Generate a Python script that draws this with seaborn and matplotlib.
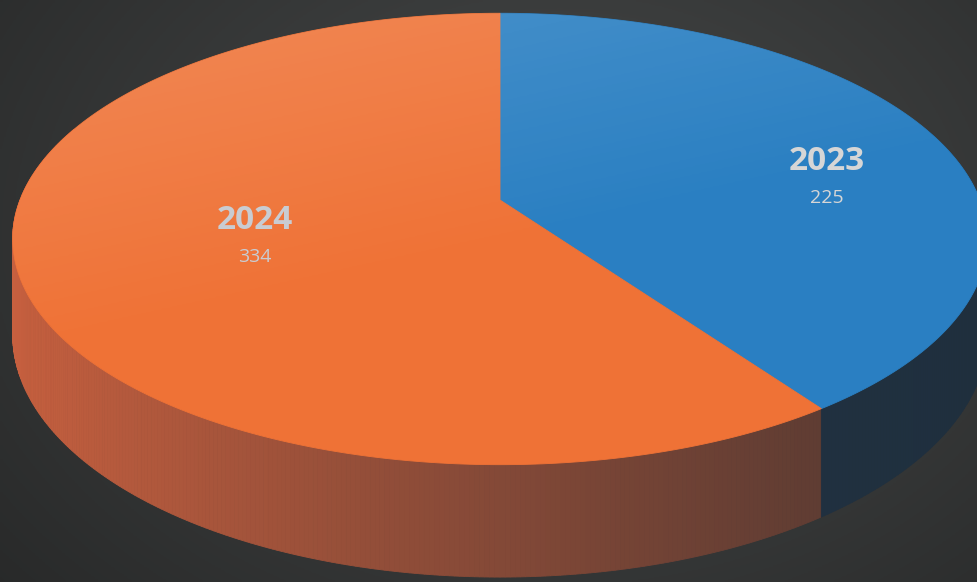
import numpy as np
import matplotlib
matplotlib.use('Agg')
import matplotlib.pyplot as plt
import seaborn as sns
from matplotlib.patches import Polygon
from matplotlib.colors import to_rgb
from matplotlib import font_manager

# ---- data ----
years = ['2023', '2024']
values = [225, 334]
top_colors = ['#2a7fc2', '#ef7236']
side_left = {'2023': '#26394c', '2024': '#c8603f'}
side_right = {'2023': '#1f2f3e', '2024': '#4f3731'}
label_pos = {'2023': (0.725, 0.31), '2024': (0.52, 0.57)}

sns.set_theme(style='white')
names = {f.name for f in font_manager.fontManager.ttflist}
fam = 'Liberation Sans Narrow' if 'Liberation Sans Narrow' in names else 'Open Sans'
plt.rcParams['font.family'] = [fam, 'DejaVu Sans']

W, H = 978, 582
fig = plt.figure(figsize=(9.78, 5.82), dpi=100)
ax = fig.add_axes([0, 0, 1, 1])

# perspective projection of the unit disk
x0, y0 = 500, 200
A, B, e, h = 480, 219, 0.1726, 93


def proj(X, Y):
    s = 1.0 / (1.0 + e * Y)
    return x0 + A * X * s, y0 - B * Y * s, h * s


# background radial gradient
gx, gy = np.meshgrid(np.linspace(0, W, 300), np.linspace(0, H, 200))
dist = np.sqrt(((gx - 560) / 700) ** 2 + ((gy - 230) / 520) ** 2)
lum = np.clip(0.29 - 0.12 * dist, 0.16, 0.29)
bg = np.dstack([lum * 0.97, lum, lum * 1.0])
ax.imshow(bg, extent=[0, W, H, 0], aspect='auto', zorder=0)

# pie gives the wedge angles
wedges, _ = ax.pie(values, colors=top_colors, startangle=90, counterclock=False,
                   radius=1, center=(0, 0), frame=True)


def wedge_for(t):
    tt = t % 360
    for i, w in enumerate(wedges):
        a1, a2 = w.theta1 % 360, w.theta2 % 360
        if (a1 <= a2 and a1 <= tt <= a2) or (a1 > a2 and (tt >= a1 or tt <= a2)):
            return i
    return 0


# side wall (back to front)
ts = np.arange(160, 380.001, 0.5)
strips = []
for t1, t2 in zip(ts[:-1], ts[1:]):
    tm = 0.5 * (t1 + t2)
    i = wedge_for(tm)
    xa, ya, da = proj(np.cos(np.radians(t1)), np.sin(np.radians(t1)))
    xb, yb, db = proj(np.cos(np.radians(t2)), np.sin(np.radians(t2)))
    f = np.clip(((xa + xb) / 2 - 10) / 960, 0, 1) ** 0.85
    cl = np.array(to_rgb(side_left[years[i]]))
    cr = np.array(to_rgb(side_right[years[i]]))
    col = cl * (1 - f) + cr * f
    strips.append((np.sin(np.radians(tm)),
                   [(xa, ya), (xb, yb), (xb, yb + db), (xa, ya + da)], col))
strips.sort(key=lambda s: -s[0])
for _, pts, col in strips:
    ax.add_patch(Polygon(pts, closed=True, facecolor=col, edgecolor=col,
                         linewidth=0.6, zorder=2))

# top face: projected wedges
for w, c in zip(wedges, top_colors):
    w.set_visible(False)
    th = np.radians(np.linspace(w.theta1, w.theta2, 300))
    xs, ys, _ = proj(np.cos(th), np.sin(th))
    pts = [(x0, y0)] + list(zip(xs, ys))
    ax.add_patch(Polygon(pts, closed=True, facecolor=c, edgecolor=c,
                         linewidth=0.6, zorder=3))

# soft highlight on top face
th = np.radians(np.linspace(0, 360, 400))
xs, ys, _ = proj(np.cos(th), np.sin(th))
face = Polygon(list(zip(xs, ys)), closed=True, transform=ax.transData)
hx, hy = np.meshgrid(np.linspace(0, 1, 200), np.linspace(0, 1, 200))
alpha = np.clip(0.17 * (1 - (hx * 0.6 + hy * 1.3)), 0, 0.17)
hl = np.dstack([np.ones_like(hx), np.ones_like(hx), np.ones_like(hx), alpha])
im = ax.imshow(hl, extent=[0, W, 470, 0], aspect='auto', zorder=4)
im.set_clip_path(face)

# labels
label_cols = {'2023': '#d6d6d6', '2024': '#c9ccd2'}
for w, yr, v in zip(wedges, years, values):
    mid = np.radians(0.5 * (w.theta1 + w.theta2))
    fx, fy = label_pos[yr]
    lx, ly, _ = proj(fx * np.cos(mid), fy * np.sin(mid))
    ax.text(lx, ly - 18, yr, ha='center', va='center', fontsize=24,
            fontweight='bold', color=label_cols[yr], zorder=6)
    ax.text(lx, ly + 18, str(v), ha='center', va='center', fontsize=14,
            color=label_cols[yr], zorder=6)

ax.set_xlim(0, W)
ax.set_ylim(H, 0)
ax.set_aspect('auto')
ax.axis('off')
fig.savefig('out.png', dpi=100)
